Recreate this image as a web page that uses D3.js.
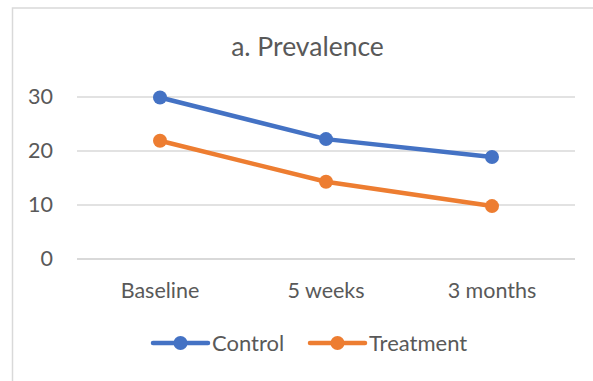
<!DOCTYPE html>
<html>
<head>
<meta charset="utf-8">
<script src="https://cdn.jsdelivr.net/npm/d3@7"></script>
<style>
  body { margin: 0; background: #fff; }
  text { font-family: Lato, "Open Sans", sans-serif; fill: #595959; }
</style>
</head>
<body>
<svg width="593" height="381"></svg>
<script>
// data
const CATEGORIES = ["Baseline", "5 weeks", "3 months"];
const CONTROL = [29.9, 22.2, 18.9];
const TREATMENT = [21.9, 14.3, 9.8];
const Y_TICKS = [0, 10, 20, 30];
const SERIES_NAMES = ["Control", "Treatment"];
const COLORS = ["#4472C4", "#ED7D31"];

const svg = d3.select('svg');

// chart area frame
svg.append('rect')
  .attr('x', 12.5).attr('y', 8)
  .attr('width', 600).attr('height', 400)
  .attr('fill', 'none')
  .attr('stroke', '#d9d9d9')
  .attr('stroke-width', 1.5);

const PLOT = {left: 77, right: 575, top: 97, bottom: 259};

const xScale = d3.scaleBand().domain(CATEGORIES).range([PLOT.left, PLOT.right]);
const yScale = d3.scaleLinear().domain([0, 30]).range([PLOT.bottom, PLOT.top]);

// title
svg.append('text')
  .text('a. Prevalence')
  .attr('x', 307.5).attr('y', 55.5)
  .attr('text-anchor', 'middle')
  .style('font-size', '26.5px');

// gridlines
svg.append('g')
  .selectAll('line')
  .data(Y_TICKS)
  .join('line')
  .attr('x1', PLOT.left).attr('x2', PLOT.right)
  .attr('y1', d => yScale(d)).attr('y2', d => yScale(d))
  .attr('stroke', '#d9d9d9')
  .attr('stroke-width', d => d === 0 ? 2 : 1.5);

// y axis labels
const yAxis = svg.append('g')
  .attr('transform', 'translate(53,0)')
  .call(d3.axisLeft(yScale).tickValues(Y_TICKS).tickSize(0).tickPadding(0));
yAxis.select('.domain').remove();
yAxis.selectAll('text')
  .attr('fill', '#595959')
  .style('font-size', '21.5px')
  .style('font-family', 'Lato, sans-serif');

// x axis labels
const xAxis = svg.append('g')
  .attr('transform', 'translate(0,298)')
  .call(d3.axisBottom(xScale).tickSize(0).tickPadding(0));
xAxis.select('.domain').remove();
xAxis.selectAll('text')
  .attr('fill', '#595959')
  .attr('dy', 0)
  .attr('y', 0)
  .style('font-size', '21.5px')
  .style('font-family', 'Lato, sans-serif');

// lines + markers
const series = [CONTROL, TREATMENT];
const line = d3.line()
  .x((d, i) => xScale(CATEGORIES[i]) + xScale.bandwidth() / 2)
  .y(d => yScale(d));

series.forEach((vals, s) => {
  svg.append('path')
    .datum(vals)
    .attr('d', line)
    .attr('fill', 'none')
    .attr('stroke', COLORS[s])
    .attr('stroke-width', 4.5)
    .attr('stroke-linejoin', 'round');

  svg.append('g')
    .selectAll('circle')
    .data(vals)
    .join('circle')
    .attr('cx', (d, i) => xScale(CATEGORIES[i]) + xScale.bandwidth() / 2)
    .attr('cy', d => yScale(d))
    .attr('r', 7)
    .attr('fill', COLORS[s]);
});

// legend
const LEGEND_X = [153, 310];
const legend = svg.append('g');
SERIES_NAMES.forEach((name, s) => {
  const g = legend.append('g').attr('transform', `translate(${LEGEND_X[s]},343)`);
  g.append('line')
    .attr('x1', 0).attr('x2', 55)
    .attr('stroke', COLORS[s])
    .attr('stroke-width', 4.5)
    .attr('stroke-linecap', 'round');
  g.append('circle')
    .attr('cx', 27.5).attr('r', 7)
    .attr('fill', COLORS[s]);
  g.append('text')
    .text(name)
    .attr('x', 59).attr('y', 8)
    .style('font-size', '22px');
});
</script>
</body>
</html>
